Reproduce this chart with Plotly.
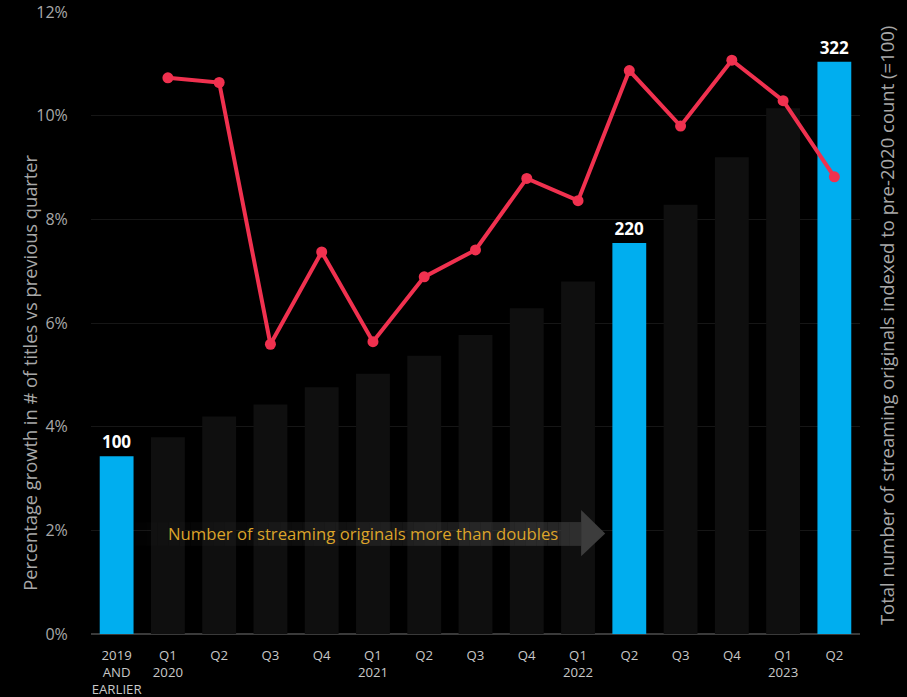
import plotly.graph_objects as go

# Quarterly streaming originals: index (pre-2020 = 100) and quarter-on-quarter growth
categories = ["2019<br>AND<br>EARLIER", "Q1<br>2020", "Q2", "Q3", "Q4",
              "Q1<br>2021", "Q2", "Q3", "Q4",
              "Q1<br>2022", "Q2", "Q3", "Q4",
              "Q1<br>2023", "Q2"]
index_values = [100, 110.7, 122.4, 129.1, 138.9, 146.5, 156.6, 168.2, 183.3,
                198.4, 220, 241.6, 268.3, 295.8, 322]
growth_pct = [None, 10.73, 10.64, 5.59, 7.37, 5.64, 6.89, 7.41, 8.79,
              8.36, 10.87, 9.80, 11.07, 10.29, 8.82]
highlight = [0, 10, 14]
pct_ticks = [0, 2, 4, 6, 8, 10, 12]
pct_labels = ["0%", "2%", "4%", "6%", "8%", "10%", "12%"]
arrow_text = "Number of streaming originals more than doubles"
left_title = "Percentage growth in # of titles vs previous quarter"
right_title = "Total number of streaming originals indexed to pre-2020 count (=100)"

x_idx = list(range(len(categories)))
BLUE = "#00AEEF"
DARK = "#0f0f0f"
RED = "#F0314F"
FONT = "Open Sans"
IDX_MAX = 350
PCT_MAX = 12

bar_colors = [BLUE if i in highlight else DARK for i in x_idx]
bar_text = [f"{index_values[i]:.0f}" if i in highlight else "" for i in x_idx]

fig = go.Figure()

# Bars live on the main (right-hand) axis so the growth line overlays them
fig.add_trace(go.Bar(
    x=x_idx, y=index_values, yaxis="y",
    marker=dict(color=bar_colors, line=dict(width=0)),
    text=bar_text, textposition="outside",
    textfont=dict(color="white", size=17, family=FONT, weight="bold"),
    cliponaxis=False, hoverinfo="skip", showlegend=False,
))

fig.add_trace(go.Scatter(
    x=x_idx, y=growth_pct, yaxis="y2", mode="lines+markers",
    line=dict(color=RED, width=4),
    marker=dict(color=RED, size=11),
    cliponaxis=False, showlegend=False,
))

# Arrow annotation: a body that fades in from the left, plus a solid head
shapes = []
x0, head_base, tip = 0.36, 9.06, 9.53
body_lo, body_hi = 1.70, 2.16
head_lo, head_hi, mid = 1.50, 2.39, 1.94
n = 40
for k in range(n):
    a = x0 + (head_base - x0) * k / n
    b = x0 + (head_base - x0) * (k + 1) / n
    alpha = 0.03 + 0.57 * ((k + 0.5) / n) ** 1.2
    shapes.append(dict(type="rect", xref="x", yref="y2", x0=a, x1=b,
                       y0=body_lo, y1=body_hi, layer="above",
                       fillcolor=f"rgba(68,68,68,{alpha:.3f})",
                       line=dict(width=0)))
shapes.append(dict(type="path", xref="x", yref="y2", layer="above",
                   path=f"M {head_base} {head_hi} L {tip} {mid} L {head_base} {head_lo} Z",
                   fillcolor="rgba(62,62,62,0.97)", line=dict(width=0)))

grid_vals = [IDX_MAX * t / PCT_MAX for t in pct_ticks]

fig.update_layout(
    width=907, height=697,
    margin=dict(l=91, r=47, t=12, b=63),
    paper_bgcolor="black", plot_bgcolor="black",
    bargap=0.34,
    font=dict(family=FONT, color="#bdbdbd"),
    shapes=shapes,
    xaxis=dict(
        tickmode="array", tickvals=x_idx, ticktext=categories,
        range=[-0.5, len(categories) - 0.5], automargin=False,
        showgrid=False, zeroline=False, showline=False,
        tickfont=dict(size=13.2, color="#c8c8c8", family=FONT),
        ticks="outside", ticklen=9, tickcolor="black",
    ),
    yaxis=dict(
        range=[0, IDX_MAX], side="right", automargin=False,
        tickmode="array", tickvals=grid_vals, showticklabels=False,
        showgrid=True, gridcolor="#161616", gridwidth=1,
        zeroline=True, zerolinecolor="#3a3a3a", zerolinewidth=2,
        ticks="",
    ),
    yaxis2=dict(
        range=[0, PCT_MAX], overlaying="y", side="left", automargin=False,
        tickmode="array", tickvals=pct_ticks, ticktext=pct_labels,
        showgrid=False, zeroline=False,
        tickfont=dict(size=16, color="#a8a8a8", family=FONT),
        ticks="outside", ticklen=19, tickcolor="black",
    ),
    annotations=[
        dict(text=left_title, xref="paper", yref="paper",
             x=0, xanchor="center", xshift=-61, y=0.42, yanchor="middle",
             textangle=-90, showarrow=False,
             font=dict(size=18.3, color="#a8a8a8", family=FONT)),
        dict(text=right_title, xref="paper", yref="paper",
             x=1, xanchor="center", xshift=26, y=0.495, yanchor="middle",
             textangle=-90, showarrow=False,
             font=dict(size=18.5, color="#a8a8a8", family=FONT)),
        dict(text=arrow_text, xref="x", yref="y2", x=4.8, y=mid,
             showarrow=False, font=dict(size=16.7, color="#DCA42A", family=FONT)),
    ],
)

fig.write_html("out.html")
